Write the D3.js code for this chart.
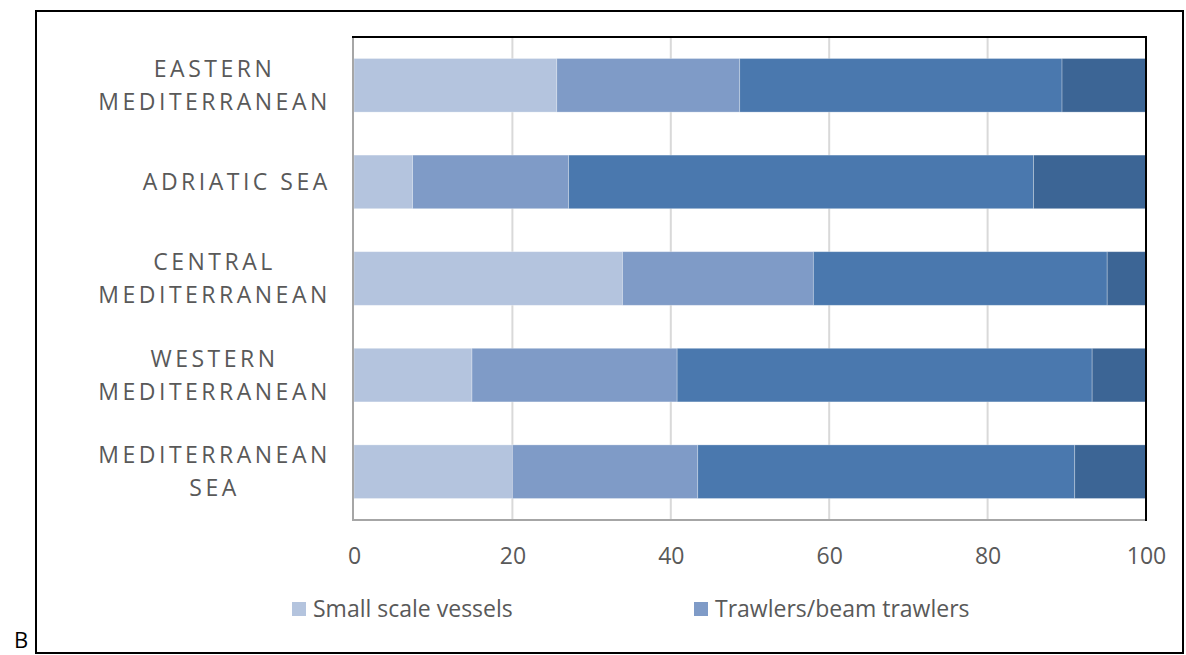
<!DOCTYPE html>
<html>
<head>
<meta charset="utf-8">
<script src="https://cdn.jsdelivr.net/npm/d3@7/dist/d3.min.js"></script>
<style>
  html, body { margin: 0; padding: 0; background: #ffffff; }
  svg { display: block; font-family: "Open Sans", "Noto Sans", sans-serif; }
</style>
</head>
<body>
<svg id="chart" width="1186" height="655"></svg>
<script>
// Regions, top to bottom
const regions = [
  ["EASTERN", "MEDITERRANEAN"],
  ["ADRIATIC SEA"],
  ["CENTRAL", "MEDITERRANEAN"],
  ["WESTERN", "MEDITERRANEAN"],
  ["MEDITERRANEAN", "SEA"]
];

// Share of each fleet segment per region (%)
const smallScale = [25.6, 7.4, 33.9, 14.9, 20.0];
const trawlers   = [23.1, 19.7, 24.1, 25.9, 23.4];
const gearC      = [40.7, 58.7, 37.1, 52.4, 47.6];
const gearD      = [10.6, 14.2, 4.9, 6.8, 9.0];

const seriesValues = [smallScale, trawlers, gearC, gearD];
const seriesColors = ["#b4c4de", "#7f9bc7", "#4a78ae", "#3c6595"];

const legendLabels = ["Small scale vessels", "Trawlers/beam trawlers"];
const xTicks = [0, 20, 40, 60, 80, 100];

const textColor = "#595959";
const svg = d3.select("#chart");

// Outer frame
svg.append("rect")
  .attr("x", 36).attr("y", 11)
  .attr("width", 1147).attr("height", 642)
  .attr("fill", "none").attr("stroke", "#000").attr("stroke-width", 2);

// Panel letter
svg.append("text")
  .attr("x", 14).attr("y", 648)
  .attr("font-size", 22).attr("fill", "#000")
  .text("B");

const plot = { left: 354, right: 1146, top: 37, bottom: 520 };

const x = d3.scaleLinear().domain([0, 100]).range([plot.left, plot.right]);
const y = d3.scaleBand()
  .domain(d3.range(regions.length))
  .range([plot.top, plot.bottom])
  .paddingInner(0.445)
  .paddingOuter(0.2225);

// Vertical gridlines
svg.append("g")
  .selectAll("line")
  .data(xTicks.filter(t => t > 0 && t < 100))
  .join("line")
  .attr("x1", d => x(d)).attr("x2", d => x(d))
  .attr("y1", plot.top).attr("y2", plot.bottom)
  .attr("stroke", "#d9d9d9").attr("stroke-width", 2);

// Stacked bars
const stacked = regions.map((r, i) => {
  let acc = 0;
  return seriesValues.map((s, k) => {
    const seg = { row: i, k, x0: acc, x1: acc + s[i] };
    acc += s[i];
    return seg;
  });
}).flat();

svg.append("g")
  .selectAll("rect")
  .data(stacked)
  .join("rect")
  .attr("x", d => x(d.x0))
  .attr("width", d => x(d.x1) - x(d.x0))
  .attr("y", d => y(d.row))
  .attr("height", y.bandwidth())
  .attr("fill", d => seriesColors[d.k])
  .attr("stroke", "rgba(255,255,255,0.35)")
  .attr("stroke-width", 0.8);

// Plot area border: grey left/bottom, black top/right
const border = svg.append("g");
border.append("line")
  .attr("x1", plot.left - 1).attr("x2", plot.left - 1)
  .attr("y1", plot.top).attr("y2", plot.bottom)
  .attr("stroke", "#a6a6a6").attr("stroke-width", 2);
border.append("line")
  .attr("x1", plot.left - 2).attr("x2", plot.right)
  .attr("y1", plot.bottom).attr("y2", plot.bottom)
  .attr("stroke", "#a6a6a6").attr("stroke-width", 2);
border.append("line")
  .attr("x1", plot.left - 2).attr("x2", plot.right + 1)
  .attr("y1", plot.top).attr("y2", plot.top)
  .attr("stroke", "#000").attr("stroke-width", 2);
border.append("line")
  .attr("x1", plot.right).attr("x2", plot.right)
  .attr("y1", plot.top - 1).attr("y2", plot.bottom + 1)
  .attr("stroke", "#000").attr("stroke-width", 2);

// X axis tick labels
const xAxis = d3.axisBottom(x).tickValues(xTicks).tickSize(0).tickPadding(0);
const gx = svg.append("g")
  .attr("transform", `translate(0, ${plot.bottom})`)
  .call(xAxis);
gx.select(".domain").remove();
gx.selectAll("text")
  .attr("dy", null)
  .attr("y", 44)
  .attr("font-size", 23)
  .attr("font-family", "\"Open Sans\", sans-serif")
  .attr("fill", textColor);

// Category labels: lines centred within a right-aligned block
const labelRight = 329;
const lineGap = 33;
const catG = svg.append("g");
regions.forEach((lines, i) => {
  const cy = y(i) + y.bandwidth() / 2;
  const g = catG.append("g");
  const texts = lines.map((line, j) => g.append("text")
    .attr("font-size", 23)
    .attr("letter-spacing", 3.5)
    .attr("fill", textColor)
    .attr("text-anchor", "middle")
    .text(line));
  const widths = texts.map(t => t.node().getComputedTextLength());
  const blockW = d3.max(widths);
  const cx = labelRight - blockW / 2;
  const n = lines.length;
  texts.forEach((t, j) => {
    const baseline = cy + 8 + (j - (n - 1) / 2) * lineGap;
    t.attr("x", cx + 1.75).attr("y", baseline);
  });
});

// Legend
const legendX = [292, 694];
const lg = svg.append("g");
legendLabels.forEach((label, i) => {
  lg.append("rect")
    .attr("x", legendX[i]).attr("y", 602)
    .attr("width", 14).attr("height", 14)
    .attr("fill", seriesColors[i]);
  lg.append("text")
    .attr("x", legendX[i] + 21).attr("y", 617)
    .attr("font-size", 23)
    .attr("fill", textColor)
    .text(label);
});
</script>
</body>
</html>
